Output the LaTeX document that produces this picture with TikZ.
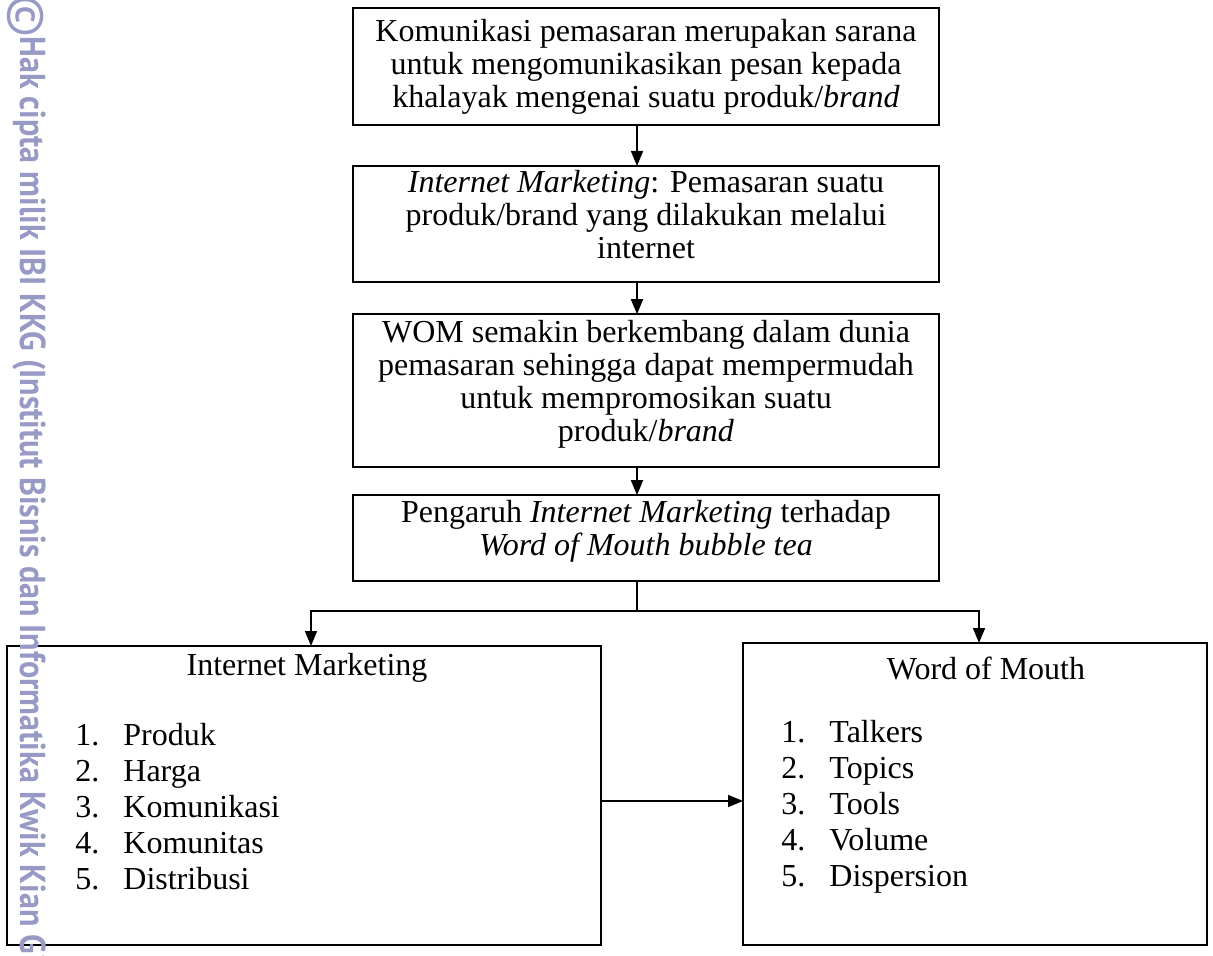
\documentclass[tikz,border=0pt]{standalone}
\usepackage{fontspec}
\setmainfont{Liberation Serif}
\newfontfamily\stampfont{PT Sans}
\usetikzlibrary{arrows.meta,positioning}
\definecolor{stampblue}{RGB}{152,154,198}
\newcommand{\numitem}[2]{\makebox[24pt][l]{#1}#2}

\begin{document}
\begin{tikzpicture}[x=0.5pt, y=-0.5pt,
  every node/.style={font=\fontsize{16pt}{16.5pt}\selectfont},
  stage/.style={draw, line width=1.1pt, outer sep=0pt, minimum width=293pt, align=center, inner sep=2pt},
  raised/.style={execute at end node={\rule[-10pt]{0pt}{10pt}}},
  varbox/.style={draw, line width=1.1pt, outer sep=0pt, inner sep=0pt},
  itemlist/.style={anchor=west, align=left, inner sep=0pt, font=\fontsize{16pt}{18pt}\selectfont},
  arr/.style={-{Triangle[length=7.5pt, width=6pt]}, line width=0.8pt},
  node distance=20pt
]
\useasboundingbox (0,0) rectangle (1213,956);

\node[stage, minimum height=58.5pt] (kom) at (646,66.5) {Komunikasi pemasaran merupakan sarana\\untuk mengomunikasikan pesan kepada\\khalayak mengenai suatu produk/\textit{brand}};
\node[stage, raised, minimum height=57pt, below=20.5pt of kom] (inet) {\textit{Internet Marketing}: Pemasaran suatu\\produk/brand yang dilakukan melalui\\internet};
\node[stage, raised, minimum height=76.5pt, below=16pt of inet] (wom) {WOM semakin berkembang dalam dunia\\pemasaran sehingga dapat mempermudah\\untuk mempromosikan suatu\\produk/\textit{brand}};
\node[stage, raised, minimum height=43pt, below=14pt of wom] (peng) {Pengaruh \textit{Internet Marketing} terhadap\\\textit{Word of Mouth bubble tea}};

\node[varbox, minimum width=297pt, minimum height=149.5pt] (imvar) at (304,795.5) {};
\node[varbox, minimum width=232pt, minimum height=151pt] (womvar) at (975,794) {};
\node (imtitle) at (307,668) {Internet Marketing};
\node (womtitle) at (986,668) {Word of Mouth};
\node[itemlist] (imlist) at (75,807) {\numitem{1.}{Produk}\\\numitem{2.}{Harga}\\\numitem{3.}{Komunikasi}\\\numitem{4.}{Komunitas}\\\numitem{5.}{Distribusi}};
\node[itemlist] (womlist) at (781,807) {\numitem{1.}{Talkers}\\\numitem{2.}{Topics}\\\numitem{3.}{Tools}\\\numitem{4.}{Volume}\\\numitem{5.}{Dispersion}};

\foreach \a/\b in {kom/inet, inet/wom, wom/peng}
  \draw[arr] ([xshift=-4.5pt]\a.south) -- ([xshift=-4.5pt]\b.north);
\coordinate (split) at (637,611);
\draw[line width=0.8pt] ([xshift=-4.5pt]peng.south) -- (split);
\draw[arr] (split) -| ([xshift=3.5pt]imvar.north);
\draw[arr] (split) -| ([xshift=2pt]womvar.north);
\draw[arr] ([yshift=-2.75pt]imvar.east) -- ([yshift=-3.5pt]womvar.west);

% watermark down the left edge
\begin{scope}
\clip (0,0) rectangle (1213,956);
\node[rotate=-90, anchor=west, text=stampblue, inner sep=0pt, font=\stampfont\bfseries\fontsize{18pt}{18pt}\selectfont] (wmark) at (29,36) {\scalebox{0.89}[1]{Hak cipta milik IBI KKG (Institut Bisnis dan Informatika Kwik Kian Gie)}};
\node[rotate=-90, text=stampblue, inner sep=0pt, font=\stampfont\fontsize{26pt}{26pt}\selectfont] (copy) at (26,16) {©};
\end{scope}
\end{tikzpicture}
\end{document}
